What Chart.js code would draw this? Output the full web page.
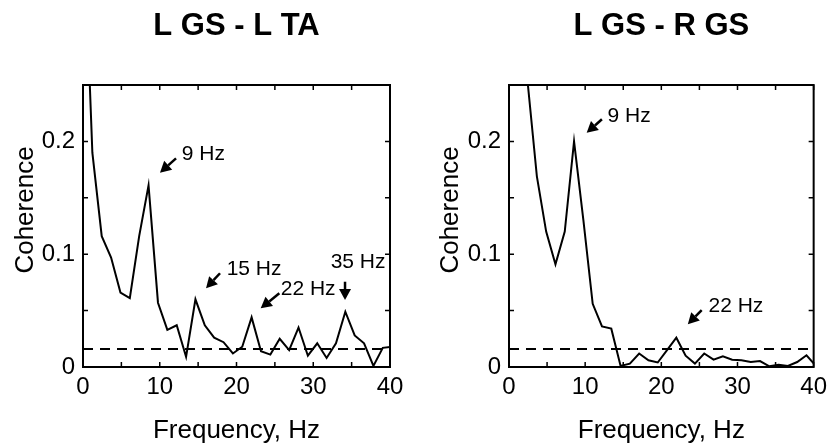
<!DOCTYPE html>
<html><head><meta charset="utf-8">
<script src="https://cdn.jsdelivr.net/npm/chart.js@4.4.1/dist/chart.umd.min.js"></script>
<style>
html,body{margin:0;padding:0;background:#fff;overflow:hidden}
#wrap{position:relative;width:833px;height:447px;background:#fff}
canvas{position:absolute;top:0}
</style></head><body>
<div id="wrap">
<canvas id="c1" width="416" height="447" style="left:0"></canvas>
<canvas id="c2" width="417" height="447" style="left:416px"></canvas>
</div>
<script>
// ---- data ----
const frequencyHz = [0, 1.22, 2.44, 3.66, 4.88, 6.10, 7.32, 8.54, 9.77, 10.99, 12.21, 13.43, 14.65, 15.87, 17.09, 18.31, 19.53, 20.75, 21.97, 23.19, 24.41, 25.63, 26.86, 28.08, 29.30, 30.52, 31.74, 32.96, 34.18, 35.40, 36.62, 37.84, 39.06, 40.28];
const coherenceLGS_LTA = [0.41, 0.190, 0.116, 0.097, 0.066, 0.061, 0.116, 0.161, 0.057, 0.033, 0.037, 0.009, 0.060, 0.037, 0.026, 0.022, 0.012, 0.018, 0.044, 0.014, 0.011, 0.025, 0.015, 0.035, 0.010, 0.021, 0.008, 0.021, 0.049, 0.028, 0.021, 0.001, 0.017, 0.018];
const coherenceLGS_RGS = [0.60, 0.40, 0.253, 0.169, 0.120, 0.091, 0.120, 0.200, 0.130, 0.056, 0.036, 0.034, 0.001, 0.003, 0.012, 0.006, 0.004, 0.015, 0.026, 0.010, 0.003, 0.012, 0.0065, 0.0095, 0.0065, 0.006, 0.0044, 0.0053, 0.0006, 0.002, 0.001, 0.0044, 0.0104, 0.001];
const significanceLevel = [0.016, 0.016];
const xTickLabels = [0, 10, 20, 30, 40];
const yTickLabels = [0, 0.1, 0.2];
const panelTitles = ['L GS - L TA', 'L GS - R GS'];
const xAxisTitle = 'Frequency, Hz';
const yAxisTitle = 'Coherence';
const peakLabelsLeft = ['9 Hz', '15 Hz', '22 Hz', '35 Hz'];
const peakLabelsRight = ['9 Hz', '22 Hz'];

// annotation placement (data coordinates)
const annotLeft = [
  {tx:12.86, ty:0.1835, x1:12.12, y1:0.185, x2:10.03, y2:0.1723},
  {tx:18.72, ty:0.0816, x1:17.85, y1:0.0831, x2:16.03, y2:0.0698},
  {tx:25.76, ty:0.0638, x1:25.58, y1:0.0653, x2:23.15, y2:0.052},
  {tx:32.27, ty:0.0875, x1:34.14, y1:0.0756, x2:34.14, y2:0.0594}
];
const annotRight = [
  {tx:12.94, ty:0.2175, x1:12.2, y1:0.2196, x2:10.2, y2:0.2077},
  {tx:26.19, ty:0.049, x1:25.3, y1:0.0505, x2:23.48, y2:0.0379}
];

const FONT = "'Liberation Sans', Arial, Helvetica, sans-serif";

function arrow(ctx, x1, y1, x2, y2) {
  const ang = Math.atan2(y2 - y1, x2 - x1);
  const L = 11, W = 6;
  const bx = x2 - L * Math.cos(ang), by = y2 - L * Math.sin(ang);
  ctx.lineWidth = 2.5;
  ctx.beginPath(); ctx.moveTo(x1, y1); ctx.lineTo(bx, by); ctx.stroke();
  ctx.beginPath();
  ctx.moveTo(x2, y2);
  ctx.lineTo(bx - W * Math.sin(ang), by + W * Math.cos(ang));
  ctx.lineTo(bx + W * Math.sin(ang), by - W * Math.cos(ang));
  ctx.closePath(); ctx.fill();
}

function framePlugin(cfg) {
  return {
    id: 'frame',
    afterDraw(chart) {
      const ctx = chart.ctx, a = chart.chartArea, x = chart.scales.x, y = chart.scales.y;
      ctx.save();
      ctx.strokeStyle = '#000'; ctx.fillStyle = '#000';
      ctx.lineWidth = 1.5;
      const T = 5;
      x.ticks.forEach(t => {
        const px = x.getPixelForValue(t.value);
        ctx.beginPath();
        ctx.moveTo(px, a.bottom); ctx.lineTo(px, a.bottom - T);
        ctx.moveTo(px, a.top); ctx.lineTo(px, a.top + T);
        ctx.stroke();
      });
      y.ticks.forEach(t => {
        const py = y.getPixelForValue(t.value);
        ctx.beginPath();
        ctx.moveTo(a.left, py); ctx.lineTo(a.left + T, py);
        ctx.moveTo(a.right, py); ctx.lineTo(a.right - T, py);
        ctx.stroke();
      });
      ctx.lineWidth = 2;
      ctx.strokeRect(a.left, a.top, a.right - a.left, a.bottom - a.top);
      // titles
      ctx.textAlign = 'center'; ctx.textBaseline = 'alphabetic';
      ctx.font = 'bold 31px ' + FONT;
      ctx.fillText(cfg.title, (a.left + a.right) / 2, 35);
      ctx.font = '26px ' + FONT;
      ctx.fillText(xAxisTitle, (a.left + a.right) / 2, 438);
      ctx.save();
      ctx.translate(cfg.ylabX, 210);
      ctx.rotate(-Math.PI / 2);
      ctx.fillText(yAxisTitle, 0, 0);
      ctx.restore();
      // annotations
      ctx.font = '21px ' + FONT; ctx.textAlign = 'left';
      cfg.annots.forEach((an, i) => {
        ctx.fillText(cfg.labels[i], x.getPixelForValue(an.tx), y.getPixelForValue(an.ty));
        arrow(ctx, x.getPixelForValue(an.x1), y.getPixelForValue(an.y1),
                   x.getPixelForValue(an.x2), y.getPixelForValue(an.y2));
      });
      ctx.restore();
    }
  };
}

function makeChart(id, values, threshold, title, padRight, yWidth, ylabX, annots, labels) {
  const data = frequencyHz.map((f, i) => ({x: f, y: values[i]}));
  return new Chart(document.getElementById(id), {
    type: 'line',
    data: {
      datasets: [
        {data: data, borderColor: '#000', borderWidth: 2, pointRadius: 0, tension: 0, fill: false},
        {data: [{x: 0, y: threshold}, {x: 40, y: threshold}], borderColor: '#000', borderWidth: 2,
         borderDash: [10, 7], pointRadius: 0, fill: false}
      ]
    },
    options: {
      responsive: false, animation: false, devicePixelRatio: 1,
      layout: {padding: {top: 85, right: padRight, left: 0, bottom: 0}},
      plugins: {legend: {display: false}, tooltip: {enabled: false}, title: {display: false}},
      scales: {
        x: {
          type: 'linear', min: 0, max: 40,
          border: {display: false},
          grid: {display: false, drawTicks: false},
          ticks: {
            stepSize: 5, autoSkip: false, maxRotation: 0, padding: 6, color: '#000',
            font: {family: FONT, size: 24},
            callback: v => xTickLabels.includes(v) ? String(v) : ''
          },
          afterFit(s) { s.height = 80; }
        },
        y: {
          type: 'linear', min: 0, max: 0.25,
          border: {display: false},
          grid: {display: false, drawTicks: false},
          ticks: {
            stepSize: 0.05, autoSkip: false, padding: 8, color: '#000',
            font: {family: FONT, size: 24},
            callback: v => {
              const m = yTickLabels.find(t => Math.abs(t - v) < 1e-9);
              return m === undefined ? '' : String(m);
            }
          },
          afterFit(s) { s.width = yWidth; }
        }
      }
    },
    plugins: [framePlugin({title: title, ylabX: ylabX, annots: annots, labels: labels})]
  });
}

makeChart('c1', coherenceLGS_LTA, significanceLevel[0], panelTitles[0], 26, 83, 33, annotLeft, peakLabelsLeft);
makeChart('c2', coherenceLGS_RGS, significanceLevel[1], panelTitles[1], 17, 93, 42, annotRight, peakLabelsRight);
</script>
</body></html>
